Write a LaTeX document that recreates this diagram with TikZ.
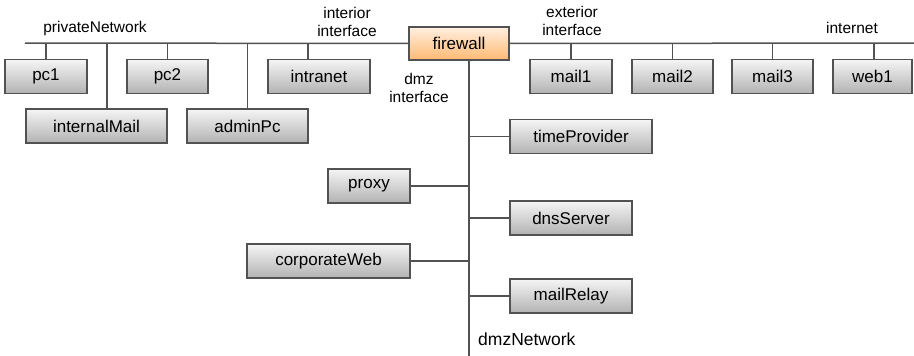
\documentclass[tikz,border=0pt]{standalone}
\usepackage{fontspec}
\setmainfont{Liberation Sans}
\begin{document}
\begin{tikzpicture}[x=1pt,y=-1pt,
  host/.style={draw=black!68, line width=1.2pt, top color=black!4, bottom color=black!30,
    inner sep=0pt, minimum height=34pt, font=\fontsize{17}{19}\selectfont},
  fw/.style={host, top color=orange!12, bottom color=orange!55},
  lbl/.style={font=\fontsize{15.5}{17.5}\selectfont, align=center, inner sep=0pt},
  wire/.style={draw=black!68, line width=1.5pt}]
\useasboundingbox (0,0) rectangle (914,356);
% bus
\coordinate (busL) at (25,43);
\coordinate (busR) at (914,43);
\coordinate (dmzB) at (469,356);
% top row hosts
\node[host, minimum width=82pt] (pc1) at (46,76.5) {pc1};
\node[host, minimum width=81pt] (pc2) at (167.5,76.5) {pc2};
\node[host, minimum width=102pt] (intranet) at (319,76.5) {intranet};
\node[host, minimum width=141pt] (internalMail) at (96.5,126) {internalMail};
\node[host, minimum width=121pt] (adminPc) at (247.5,126) {adminPc};
\node[fw, minimum width=100pt, minimum height=33pt] (firewall) at (459,43.5) {firewall};
\node[host, minimum width=82pt] (mail1) at (571,76.5) {mail1};
\node[host, minimum width=81pt] (mail2) at (672.5,76.5) {mail2};
\node[host, minimum width=81pt] (mail3) at (772.5,76.5) {mail3};
\node[host, minimum width=79pt] (web1) at (872.5,76.5) {web1};
% dmz hosts
\node[host, minimum width=142pt] (timeProvider) at (581,136.5) {timeProvider};
\node[host, minimum width=82pt] (proxy) at (369,186) {proxy};
\node[host, minimum width=122pt] (dnsServer) at (571,218) {dnsServer};
\node[host, minimum width=163pt] (corporateWeb) at (328.5,261) {corporateWeb};
\node[host, minimum width=122pt] (mailRelay) at (571,296) {mailRelay};
% labels
\node[lbl] (lpriv) at (95,28) {privateNetwork};
\node[lbl] (lint) at (347,22) {interior\\interface};
\node[lbl] (lext) at (572,21) {exterior\\interface};
\node[lbl] (linet) at (852,28) {internet};
\node[lbl] (ldmz) at (419,88) {dmz\\interface};
\node[lbl, anchor=west, font=\fontsize{17.5}{19}\selectfont] (ldmzn) at (478,339) {dmzNetwork};
% wires
\draw[wire] (busL) -- (firewall.west);
\draw[wire] (firewall.east) -- (busR);
\draw[wire] (firewall.south -| dmzB) -- (dmzB);
\draw[wire] (pc1.north) -- (pc1.north |- busL);
\draw[wire] (pc2.north) -- (pc2.north |- busL);
\draw[wire] ([xshift=-11pt]intranet.north) -- ([xshift=-11pt]intranet.north |- busL);
\draw[wire] ([xshift=10.5pt]internalMail.north) -- ([xshift=10.5pt]internalMail.north |- busL);
\draw[wire] (adminPc.north) -- (adminPc.north |- busL);
\draw[wire] (mail1.north) -- (mail1.north |- busL);
\draw[wire] (mail2.north) -- (mail2.north |- busL);
\draw[wire] (mail3.north) -- (mail3.north |- busL);
\draw[wire] ([xshift=1.5pt]web1.north) -- ([xshift=1.5pt]web1.north |- busL);
\draw[wire] (timeProvider.west) -- (timeProvider.west -| dmzB);
\draw[wire] (proxy.east) -- (proxy.east -| dmzB);
\draw[wire] (dnsServer.west) -- (dnsServer.west -| dmzB);
\draw[wire] (corporateWeb.east) -- (corporateWeb.east -| dmzB);
\draw[wire] (mailRelay.west) -- (mailRelay.west -| dmzB);
\end{tikzpicture}
\end{document}
